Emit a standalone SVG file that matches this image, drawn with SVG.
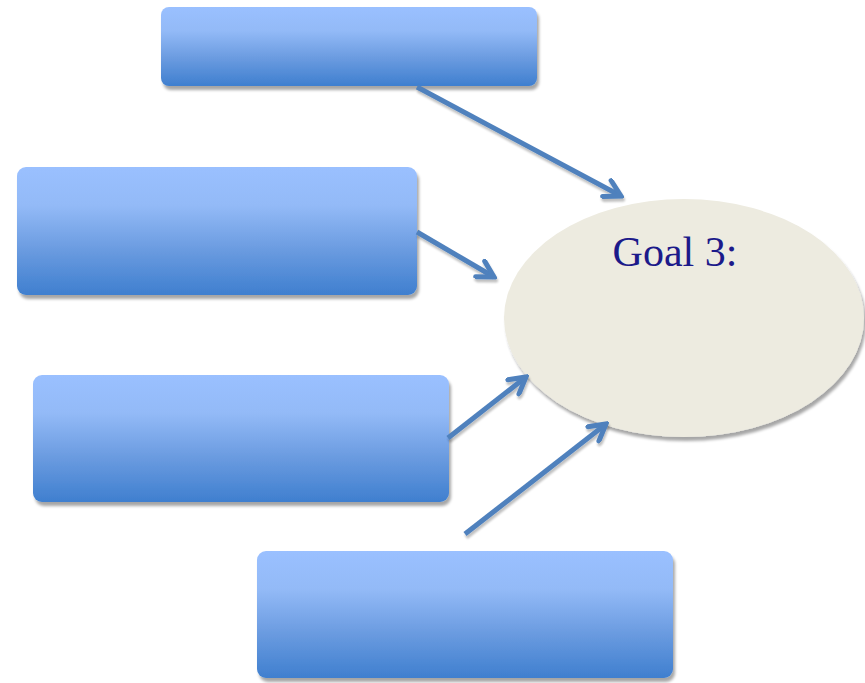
<svg xmlns="http://www.w3.org/2000/svg" width="865" height="683" viewBox="0 0 865 683">
<defs>
<linearGradient id="boxg" x1="0" y1="0" x2="0" y2="1">
<stop offset="0" stop-color="#9ac0ff"/>
<stop offset="0.3" stop-color="#93baf7"/>
<stop offset="0.65" stop-color="#6a9be0"/>
<stop offset="1" stop-color="#3f7fcf"/>
</linearGradient>
<filter id="sh" x="-10%" y="-10%" width="125%" height="130%">
<feGaussianBlur in="SourceAlpha" stdDeviation="1.5"/>
<feOffset dx="2" dy="4" result="b"/>
<feComponentTransfer><feFuncA type="linear" slope="0.35"/></feComponentTransfer>
<feMerge><feMergeNode/><feMergeNode in="SourceGraphic"/></feMerge>
</filter>
<filter id="ash" x="-20%" y="-20%" width="140%" height="140%">
<feGaussianBlur in="SourceAlpha" stdDeviation="1"/>
<feOffset dx="1" dy="3"/>
<feComponentTransfer><feFuncA type="linear" slope="0.25"/></feComponentTransfer>
<feMerge><feMergeNode/><feMergeNode in="SourceGraphic"/></feMerge>
</filter>
<marker id="ah" viewBox="0 0 22 22" refX="19" refY="11" markerWidth="22" markerHeight="22" markerUnits="userSpaceOnUse" orient="auto">
<path d="M3,2 L19,11 L3,20" fill="none" stroke="#4f81bd" stroke-width="5" stroke-linecap="round" stroke-linejoin="miter"/>
</marker>
</defs>
<style>
.box{fill:url(#boxg);filter:url(#sh);}
.conn line{stroke:#4f81bd;stroke-width:5;marker-end:url(#ah);}
.lbl{font-family:"Liberation Serif","Times New Roman",serif;font-size:42px;fill:#1c1a8a;}
</style>
<g id="box1"><rect class="box" x="161" y="7" width="376" height="79" rx="8"/></g>
<g id="box2"><rect class="box" x="17" y="167" width="400" height="128" rx="9"/></g>
<g id="box3"><rect class="box" x="33" y="375" width="416" height="127" rx="9"/></g>
<g id="box4"><rect class="box" x="257" y="551" width="416" height="127" rx="9"/></g>
<g id="goal">
<ellipse cx="684" cy="318" rx="180" ry="119" fill="#edebe0" filter="url(#sh)"/>
<text class="lbl" x="675" y="266" text-anchor="middle">Goal 3:</text>
</g>
<g class="conn" filter="url(#ash)">
<line x1="417" y1="87" x2="621" y2="196"/>
<line x1="417" y1="232" x2="494" y2="277"/>
<line x1="448" y1="438" x2="526" y2="377"/>
<line x1="465" y1="534" x2="606" y2="424"/>
</g>
</svg>
